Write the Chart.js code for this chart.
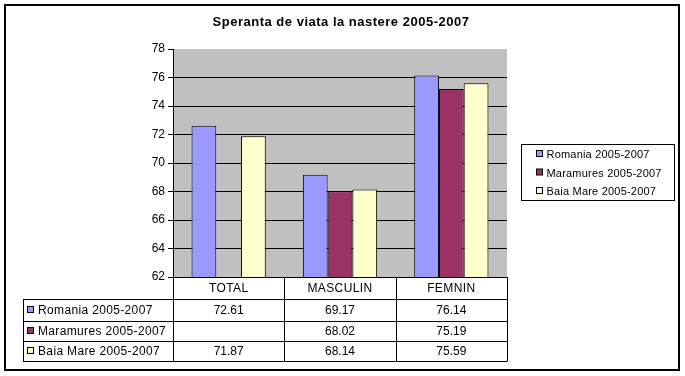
<!DOCTYPE html>
<html>
<head>
<meta charset="utf-8">
<script src="https://cdn.jsdelivr.net/npm/chart.js@4/dist/chart.umd.min.js"></script>
<style>
html,body{margin:0;padding:0;background:#fff;}
#wrap{position:relative;width:685px;height:376px;}
</style>
</head>
<body>
<div id="wrap"><canvas id="c" width="685" height="376"></canvas></div>
<script>
const titleText = "Speranta de viata la nastere 2005-2007";
const categories = ["TOTAL", "MASCULIN", "FEMNIN"];
const seriesNames = ["Romania 2005-2007", "Maramures 2005-2007", "Baia Mare 2005-2007"];
const romania = [72.61, 69.17, 76.14];
const maramures = [null, 68.02, 75.19];
const baiaMare = [71.87, 68.14, 75.59];
const seriesColors = ["#9999ff", "#993366", "#ffffcc"];
const yMin = 62, yMax = 78, yStep = 2;

const FONT = "'Liberation Sans', Arial, sans-serif";
const seriesValues = [romania, maramures, baiaMare];

function fmt(v){ return v === null ? "" : v.toFixed(2); }

const decor = {
  id: 'decor',
  beforeDraw(chart){
    const {ctx, chartArea:a} = chart;
    ctx.save();
    ctx.fillStyle = '#fff';
    ctx.fillRect(0,0,chart.width,chart.height);
    ctx.fillStyle = '#c0c0c0';
    ctx.fillRect(a.left, a.top, a.right-a.left, a.bottom-a.top);
    ctx.restore();
  },
  afterDraw(chart){
    const {ctx, chartArea:a} = chart;
    const x = chart.scales.x;
    ctx.save();
    // outer border
    ctx.strokeStyle = '#000';
    ctx.lineWidth = 2;
    ctx.strokeRect(5, 5, 674, 365);
    // title
    ctx.fillStyle = '#000';
    ctx.font = "bold 13px " + FONT;
    ctx.letterSpacing = '0.5px';
    ctx.textAlign = 'left';
    ctx.textBaseline = 'middle';
    const tw = ctx.measureText(titleText).width;
    ctx.fillText(titleText, 341 - tw/2, 22);

    // data table
    const tableLeft = 23;
    const rowH = [a.bottom, a.bottom+22, a.bottom+43.5, a.bottom+64, a.bottom+84];
    const n = categories.length;
    const colW = (a.right - a.left)/n;
    const colEdges = [];
    for(let i=0;i<=n;i++) colEdges.push(a.left + i*colW);
    ctx.lineWidth = 1;
    ctx.strokeStyle = '#000';
    ctx.beginPath();
    ctx.moveTo(a.left, Math.round(rowH[0])+0.5); ctx.lineTo(a.right, Math.round(rowH[0])+0.5);
    for(let r=1;r<rowH.length;r++){
      const yy = Math.round(rowH[r])+0.5;
      ctx.moveTo(tableLeft, yy); ctx.lineTo(a.right, yy);
    }
    for(let i=0;i<=n;i++){
      const xx = Math.round(colEdges[i])+0.5;
      ctx.moveTo(xx, rowH[0]); ctx.lineTo(xx, rowH[4]+0.5);
    }
    ctx.moveTo(tableLeft+0.5, Math.round(rowH[1])); ctx.lineTo(tableLeft+0.5, Math.round(rowH[4])+0.5);
    ctx.stroke();

    ctx.font = "12px " + FONT;
    ctx.textAlign = 'left';
    ctx.textBaseline = 'middle';
    ctx.fillStyle = '#000';
    for(let i=0;i<n;i++){
      const cx = x.getPixelForTick(i);
      ctx.letterSpacing = '0.4px';
      let w = ctx.measureText(categories[i]).width;
      ctx.fillText(categories[i], cx - w/2, (rowH[0]+rowH[1])/2+1);
      ctx.letterSpacing = '0px';
      for(let s=0;s<seriesValues.length;s++){
        const t = fmt(seriesValues[s][i]);
        w = ctx.measureText(t).width;
        ctx.fillText(t, cx - w/2, (rowH[s+1]+rowH[s+2])/2+1);
      }
    }
    ctx.letterSpacing = '0.35px';
    for(let s=0;s<seriesNames.length;s++){
      const cy = (rowH[s+1]+rowH[s+2])/2;
      ctx.fillStyle = seriesColors[s];
      ctx.fillRect(27.5, Math.round(cy)-3.5, 6, 6);
      ctx.strokeStyle = '#000';
      ctx.strokeRect(27.5, Math.round(cy)-3.5, 6, 6);
      ctx.fillStyle = '#000';
      ctx.fillText(seriesNames[s], 38, cy+1);
    }

    // legend box
    ctx.font = "11px " + FONT;
    ctx.letterSpacing = '0.2px';
    ctx.strokeStyle = '#000';
    ctx.lineWidth = 1;
    ctx.strokeRect(521.5, 144.5, 153, 56);
    const ly = [154, 172.5, 191];
    for(let s=0;s<seriesNames.length;s++){
      ctx.fillStyle = seriesColors[s];
      ctx.fillRect(536.5, ly[s]-3.5, 6, 6);
      ctx.strokeRect(536.5, ly[s]-3.5, 6, 6);
      ctx.fillStyle = '#000';
      ctx.fillText(seriesNames[s], 546.5, ly[s]+1);
    }
    ctx.restore();
  }
};

new Chart(document.getElementById('c'), {
  type: 'bar',
  data: {
    labels: categories,
    datasets: seriesNames.map((name, i) => ({
      label: name,
      data: seriesValues[i],
      backgroundColor: seriesColors[i],
      borderColor: '#000',
      borderWidth: 1,
      categoryPercentage: 0.667,
      barPercentage: 1
    }))
  },
  options: {
    responsive: false,
    animation: false,
    devicePixelRatio: 1,
    layout: { padding: { left: 0, top: 49, right: 178, bottom: 99 } },
    plugins: { legend: { display: false }, title: { display: false }, tooltip: { enabled: false } },
    scales: {
      x: { display: false, offset: true, grid: { display: false } },
      y: {
        min: yMin, max: yMax,
        ticks: { stepSize: yStep, color: '#000', font: { family: FONT, size: 12 }, padding: 3 },
        grid: {
          color: ctx => (ctx.tick && ctx.tick.value === yMax) ? 'rgba(0,0,0,0)' : '#000',
          lineWidth: 1,
          drawTicks: true,
          tickLength: 5,
          tickColor: '#000'
        },
        border: { color: '#000', width: 1 },
        afterFit(scale){ scale.width = 173; }
      }
    }
  },
  plugins: [decor]
});
</script>
</body>
</html>
